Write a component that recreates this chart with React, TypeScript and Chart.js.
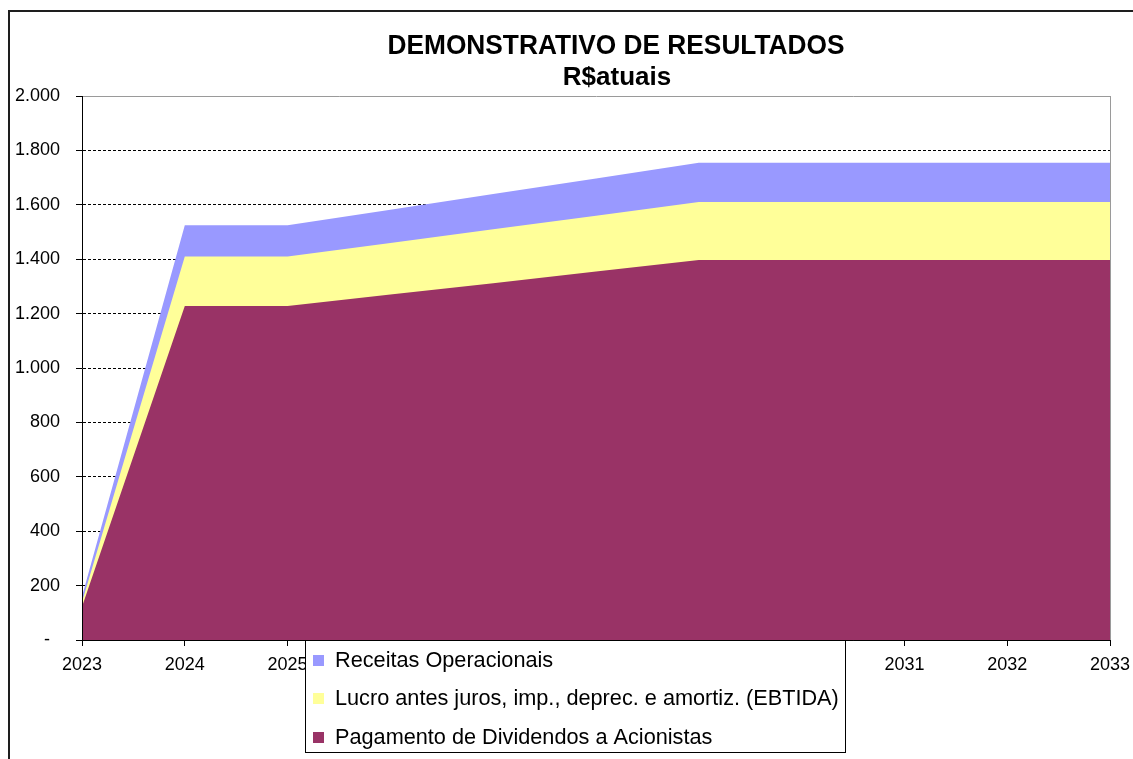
import React, { useEffect, useRef } from 'react';
import { Chart, registerables } from 'chart.js';

Chart.register(...registerables);

const years = ['2023', '2024', '2025', '2026', '2027', '2028', '2029', '2030', '2031', '2032', '2033'];
const receitas = [160, 1525, 1525, 1582, 1640, 1697, 1755, 1755, 1755, 1755, 1755];
const ebitda = [140, 1410, 1410, 1460, 1510, 1560, 1610, 1610, 1610, 1610, 1610];
const dividendos = [122, 1228, 1228, 1270, 1312, 1355, 1397, 1397, 1397, 1397, 1397];
const seriesNames = [
  'Receitas Operacionais',
  'Lucro antes juros, imp., deprec. e amortiz. (EBTIDA)',
  'Pagamento de Dividendos a Acionistas',
];
const seriesColors = ['#9999FF', '#FFFF99', '#993366'];
const titleLines = ['DEMONSTRATIVO DE RESULTADOS', 'R$atuais'];
const yMin = 0;
const yMax = 2000;
const yStep = 200;

const FONT = '"Liberation Sans", Arial, sans-serif';

function fmt(v: number): string {
  if (v === 0) return '-  ';
  return String(v).replace(/\B(?=(\d{3})+(?!\d))/g, '.');
}

const decor = {
  id: 'decor',
  afterDatasetsDraw(chart: any) {
    const { ctx, chartArea } = chart;
    ctx.save();
    ctx.strokeStyle = '#9a9a9a';
    ctx.lineWidth = 1;
    ctx.beginPath();
    ctx.moveTo(Math.round(chartArea.right) + 0.5, chartArea.top);
    ctx.lineTo(Math.round(chartArea.right) + 0.5, chartArea.bottom);
    ctx.stroke();
    ctx.restore();
  },
  afterDraw(chart: any) {
    const { ctx, chartArea } = chart;
    ctx.save();
    // outer frame
    ctx.strokeStyle = '#1e1e1e';
    ctx.lineWidth = 2;
    ctx.beginPath();
    ctx.moveTo(9, chart.height + 5);
    ctx.lineTo(9, 11);
    ctx.lineTo(chart.width + 5, 11);
    ctx.stroke();

    // title
    ctx.fillStyle = '#000';
    ctx.textAlign = 'center';
    ctx.textBaseline = 'middle';
    ctx.font = `bold 27px ${FONT}`;
    ctx.fillText(titleLines[0], 616, 47, 457);
    ctx.font = `bold 26px ${FONT}`;
    ctx.fillText(titleLines[1], 617, 78);

    // legend
    const bx = 305.5, by = chartArea.bottom + 0.5, bw = 540, bh = 112;
    ctx.fillStyle = '#fff';
    ctx.fillRect(bx, by, bw, bh);
    ctx.strokeStyle = '#000';
    ctx.lineWidth = 1;
    ctx.strokeRect(bx, by, bw, bh);
    ctx.font = `21.7px ${FONT}`;
    ctx.textAlign = 'left';
    ctx.textBaseline = 'middle';
    const rows = [660, 698, 737];
    chart.data.datasets.forEach((ds: any, i: number) => {
      ctx.fillStyle = ds.backgroundColor;
      ctx.fillRect(313, rows[i] - 5, 11, 11);
      ctx.fillStyle = '#000';
      ctx.fillText(ds.label, 335, rows[i] + 1);
    });
    ctx.restore();
  },
};

export default function App() {
  const ref = useRef<HTMLCanvasElement>(null);
  useEffect(() => {
    if (!ref.current) return;
    const datasets = [receitas, ebitda, dividendos].map((d, i) => ({
      label: seriesNames[i],
      data: d,
      backgroundColor: seriesColors[i],
      borderColor: 'rgba(0,0,0,0)',
      borderWidth: 1,
      pointRadius: 0,
      fill: 'origin',
      tension: 0,
      order: 3 - i,
    }));
    const chart = new Chart(ref.current, {
      type: 'line',
      data: { labels: years, datasets },
      plugins: [decor],
      options: {
        responsive: false,
        animation: false,
        devicePixelRatio: 1,
        layout: { padding: { left: 0, top: 96, right: 23, bottom: 0 } },
        plugins: { legend: { display: false }, tooltip: { enabled: false }, title: { display: false } },
        scales: {
          x: {
            type: 'category',
            offset: false,
            afterFit: (s: any) => { s.height = 119; s.paddingRight = 0; s.paddingLeft = 0; },
            grid: { drawOnChartArea: false, drawTicks: true, tickLength: 6, color: '#000', tickColor: '#000' },
            border: { display: true, color: '#000', width: 1, z: 1 },
            ticks: { color: '#000', font: { family: FONT, size: 18 }, padding: 8, maxRotation: 0, autoSkip: false },
          },
          y: {
            min: yMin,
            max: yMax,
            afterFit: (s: any) => { s.width = 82; s.paddingTop = 0; s.paddingBottom = 0; },
            grid: {
              drawTicks: true,
              tickLength: 6,
              tickColor: '#000',
              tickBorderDash: [],
              color: (c: any) => (c.tick && c.tick.value === yMax ? '#9a9a9a' : '#000'),
            },
            border: {
              display: true,
              color: '#000',
              width: 1,
              z: 1,
              dash: (c: any) => (c.tick && c.tick.value !== yMax && c.tick.value !== yMin ? [3, 2] : []),
            },
            ticks: {
              stepSize: yStep,
              color: '#000',
              padding: 16,
              font: { family: FONT, size: 18 },
              callback: (v: any) => fmt(Number(v)),
            },
          },
        },
      } as any,
    });
    return () => chart.destroy();
  }, []);
  return (
    <canvas
      ref={ref}
      width={1133}
      height={759}
      style={{ position: 'fixed', left: 0, top: 0, width: 1133, height: 759, background: '#fff' }}
    />
  );
}
